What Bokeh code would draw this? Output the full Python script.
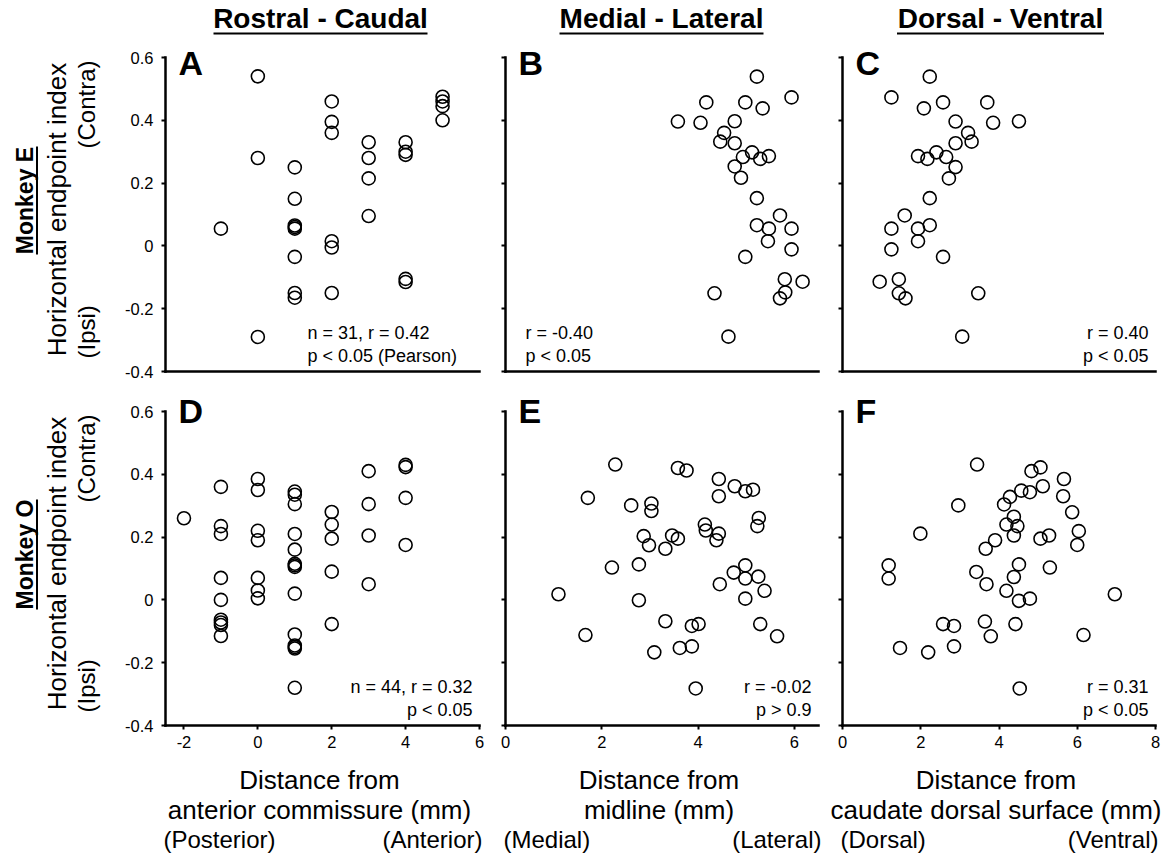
import math
from bokeh.plotting import figure
from bokeh.layouts import gridplot
from bokeh.models import Range1d, FixedTicker, Label, Arrow, CustomJSTickFormatter, LinearAxis
from bokeh.embed import file_html
from bokeh.resources import INLINE

# ---------------- data ----------------
# Monkey E, Rostral - Caudal (A)
a_x = [0, 0, 0, -1, 1, 1, 1, 1, 1, 1, 1, 1, 2, 2, 2, 2, 2, 2, 3, 3, 3, 3, 4, 4, 4, 4, 4, 5, 5, 5, 5]
a_y = [0.54, 0.28, -0.29, 0.055, 0.25, 0.15, 0.065, 0.06, 0.055, -0.035, -0.15, -0.165,
       0.46, 0.395, 0.36, 0.015, -0.005, -0.15, 0.33, 0.28, 0.215, 0.095,
       0.33, 0.30, 0.29, -0.105, -0.115, 0.475, 0.46, 0.445, 0.40]
# Monkey E, Medial - Lateral (B)
b_x = [5.22, 5.94, 4.17, 4.98, 5.34, 3.58, 4.05, 4.76, 4.54, 4.46, 4.76, 5.12, 4.93, 5.29, 5.47, 4.76,
       4.89, 5.22, 5.70, 5.22, 5.47, 5.94, 5.45, 5.94, 4.98, 5.80, 6.17, 4.34, 5.81, 5.70, 4.63]
b_y = [0.539, 0.473, 0.457, 0.457, 0.438, 0.396, 0.392, 0.397, 0.36, 0.332, 0.327, 0.298, 0.283, 0.277,
       0.286, 0.253, 0.217, 0.152, 0.097, 0.066, 0.055, 0.055, 0.015, -0.011, -0.035, -0.106, -0.114,
       -0.151, -0.148, -0.167, -0.289]
# Monkey E, Dorsal - Ventral (C)
c_x = [2.23, 1.25, 2.57, 3.70, 2.08, 2.89, 3.85, 4.51, 3.21, 3.30, 2.89, 1.93, 2.17, 2.40, 2.65, 2.89,
       2.72, 2.23, 1.59, 1.25, 1.93, 2.23, 1.93, 1.25, 2.57, 0.95, 1.44, 1.44, 1.61, 3.47, 3.06]
c_y = [0.539, 0.473, 0.457, 0.457, 0.438, 0.396, 0.392, 0.397, 0.36, 0.332, 0.327, 0.286, 0.277, 0.298,
       0.283, 0.251, 0.215, 0.152, 0.097, 0.055, 0.055, 0.066, 0.015, -0.011, -0.035, -0.114, -0.106,
       -0.151, -0.167, -0.151, -0.289]
# Monkey O, Rostral - Caudal (D)
d_x = [-2, -1, -1, -1, -1, -1, -1, -1, -1, -1, 0, 0, 0, 0, 0, 0, 0,
       1, 1, 1, 1, 1, 1, 1, 1, 1, 1, 1, 1, 1, 1, 2, 2, 2, 2, 2, 3, 3, 3, 3, 4, 4, 4, 4]
d_y = [0.26, 0.36, 0.235, 0.21, 0.07, 0.0, -0.063, -0.072, -0.08, -0.115,
       0.385, 0.35, 0.22, 0.19, 0.07, 0.03, 0.005,
       0.345, 0.335, 0.305, 0.21, 0.16, 0.115, 0.11, 0.105, 0.02, -0.11, -0.145, -0.15, -0.155, -0.28,
       0.28, 0.24, 0.195, 0.09, -0.077, 0.41, 0.305, 0.205, 0.05, 0.43, 0.423, 0.325, 0.175]
# Monkey O, Medial - Lateral (E)
e_x = [2.28, 3.58, 3.76, 4.43, 4.76, 4.98, 5.14, 4.43, 1.71, 2.61, 3.03, 3.03, 5.26, 5.23, 4.14, 4.16,
       4.43, 4.38, 2.87, 2.98, 3.32, 3.46, 3.58, 2.21, 2.77, 4.98, 4.74, 4.98, 5.25, 4.45, 5.38, 1.10,
       2.77, 4.98, 3.32, 3.87, 4.01, 5.29, 1.66, 5.64, 3.62, 3.87, 3.09, 3.95]
e_y = [0.431, 0.42, 0.412, 0.385, 0.362, 0.346, 0.351, 0.33, 0.325, 0.301, 0.307, 0.283, 0.261, 0.235,
       0.24, 0.221, 0.211, 0.19, 0.203, 0.174, 0.163, 0.205, 0.195, 0.103, 0.113, 0.11, 0.087, 0.068,
       0.074, 0.05, 0.029, 0.018, -0.001, 0.004, -0.068, -0.083, -0.077, -0.077, -0.112, -0.116,
       -0.153, -0.148, -0.167, -0.282]
# Monkey O, Dorsal - Ventral (F)
f_x = [3.44, 5.06, 4.83, 5.66, 5.12, 4.57, 4.79, 4.28, 5.64, 4.13, 2.96, 5.87, 4.38, 4.19, 4.47, 4.38,
       6.04, 1.99, 5.28, 5.06, 3.90, 3.66, 6.00, 1.18, 1.18, 4.51, 5.30, 3.42, 4.38, 3.68, 4.19, 4.51,
       4.79, 6.96, 2.57, 2.85, 3.64, 4.42, 3.79, 6.16, 1.47, 2.19, 2.85, 4.53]
f_y = [0.431, 0.422, 0.41, 0.385, 0.362, 0.348, 0.343, 0.328, 0.33, 0.304, 0.301, 0.279, 0.265, 0.24,
       0.235, 0.205, 0.219, 0.211, 0.205, 0.195, 0.19, 0.163, 0.175, 0.11, 0.068, 0.113, 0.103, 0.089,
       0.073, 0.05, 0.029, -0.003, 0.004, 0.018, -0.077, -0.083, -0.069, -0.077, -0.116, -0.112,
       -0.153, -0.167, -0.148, -0.282]

column_titles = ["Rostral - Caudal", "Medial - Lateral", "Dorsal - Ventral"]
row_titles = ["Monkey E", "Monkey O"]
panel_letters = [["A", "B", "C"], ["D", "E", "F"]]
stats = [[["n = 31, r = 0.42", "p < 0.05 (Pearson)"], ["r = -0.40", "p < 0.05"], ["r = 0.40", "p < 0.05"]],
         [["n = 44, r = 0.32", "p < 0.05"], ["r = -0.02", "p > 0.9"], ["r = 0.31", "p < 0.05"]]]
x_titles = [["Distance from", "anterior commissure (mm)"],
            ["Distance from", "midline (mm)"],
            ["Distance from", "caudate dorsal surface (mm)"]]
x_ends = [["(Posterior)", "(Anterior)"], ["(Medial)", "(Lateral)"], ["(Dorsal)", "(Ventral)"]]
y_title = "Horizontal endpoint index"
y_ends = ["(Ipsi)", "(Contra)"]
x_ticks = [[-2, 0, 2, 4, 6], [0, 2, 4, 6], [0, 2, 4, 6, 8]]
y_ticks = [-0.4, -0.2, 0, 0.2, 0.4, 0.6]

data = [[(a_x, a_y), (b_x, b_y), (c_x, c_y)], [(d_x, d_y), (e_x, e_y), (f_x, f_y)]]

# ---------------- layout (page pixels) ----------------
XR = [(-2.5, 6.0), (0.0, 6.5), (0.0, 8.0)]   # axis extents
YR = (-0.4, 0.6)
FL = [165, 505, 842]          # page x of the axes box left
FW = [314, 313, 313]
FT = [57, 411]                # page y of the axes box top
FH = 314
X0 = [0, 491, 828]            # canvas edges of every figure
X1 = [491, 828, 1167]
Y0 = [0, 391]
Y1 = [391, 857]
FONT = "Liberation Sans"
BASE_K = 0.37                 # baseline correction of rendered labels (em)


def to_data(row, col, px, py):
    x0, x1 = XR[col]
    x = x0 + (px - FL[col]) / FW[col] * (x1 - x0)
    y = YR[1] - (py - FT[row]) / FH * (YR[1] - YR[0])
    return x, y


def lab(p, row, col, px, py, text, size, bold=False, align="left", angle=0.0):
    if angle == 0.0:
        py = py - BASE_K * size
    else:
        px = px - BASE_K * size
    x, y = to_data(row, col, px, py)
    p.add_layout(Label(x=x, y=y, text=text, text_font=FONT, text_font_size=f"{size}px",
                       text_font_style="bold" if bold else "normal", text_color="black",
                       text_align=align, text_baseline="alphabetic", angle=angle))


def uline(p, row, col, px0, py0, px1, py1, w=2.0):
    x0, y0 = to_data(row, col, px0, py0)
    x1, y1 = to_data(row, col, px1, py1)
    p.add_layout(Arrow(end=None, x_start=x0, y_start=y0, x_end=x1, y_end=y1,
                       line_color="black", line_width=w))


fmt = CustomJSTickFormatter(code="return Math.abs(tick - Math.round(tick)) < 1e-9 ? tick.toFixed(0) : tick.toFixed(1);")


def style_axis(ax):
    ax.axis_line_width = 2.5
    ax.axis_line_color = "black"
    ax.axis_line_cap = "square"
    ax.major_tick_line_width = 2
    ax.major_tick_line_color = "black"
    ax.major_tick_out = 4
    ax.major_tick_in = 0
    ax.minor_tick_line_width = 2
    ax.minor_tick_line_color = "black"
    ax.minor_tick_out = 4
    ax.minor_tick_in = 0
    ax.major_label_text_font = FONT
    ax.major_label_text_font_size = "16.5px"
    ax.major_label_text_color = "black"
    ax.formatter = fmt


figs = []
for row in range(2):
    frow = []
    for col in range(3):
        xs0, _ = to_data(row, col, X0[col], 0)
        xs1, _ = to_data(row, col, X1[col], 0)
        _, ys1 = to_data(row, col, 0, Y0[row])
        _, ys0 = to_data(row, col, 0, Y1[row])
        p = figure(width=X1[col] - X0[col], height=Y1[row] - Y0[row],
                   x_range=Range1d(xs0, xs1), y_range=Range1d(ys0, ys1),
                   x_axis_location=None, y_axis_location=None, title=None,
                   output_backend="svg", toolbar_location=None,
                   min_border_left=0, min_border_right=0,
                   min_border_top=0, min_border_bottom=0)
        p.outline_line_color = None
        p.grid.visible = False

        # y axis
        yax = LinearAxis(fixed_location=XR[col][0], bounds=YR)
        style_axis(yax)
        if col == 0:
            yax.ticker = FixedTicker(ticks=y_ticks, minor_ticks=[])
            yax.major_label_standoff = 8
        else:
            yax.ticker = FixedTicker(ticks=[], minor_ticks=y_ticks)
        p.add_layout(yax, "left")

        # x axis
        xax = LinearAxis(fixed_location=YR[0], bounds=XR[col])
        style_axis(xax)
        if row == 1:
            xax.ticker = FixedTicker(ticks=x_ticks[col], minor_ticks=[])
            xax.major_label_standoff = 6
        else:
            xax.ticker = FixedTicker(ticks=[], minor_ticks=[])
        p.add_layout(xax, "below")

        xs, ys = data[row][col]
        p.scatter(xs, ys, marker="circle", size=13, fill_color=None,
                  line_color="black", line_width=1.6)

        # panel letter
        lab(p, row, col, FL[col] + 13, FT[row] + (18 if row == 0 else 12), panel_letters[row][col], 34, bold=True)

        # statistics text
        l1, l2 = stats[row][col]
        bottom = FT[row] + FH
        if row == 0 and col in (0, 1):
            sx = 307 if col == 0 else 525
            lab(p, row, col, sx, bottom - 32, l1, 18)
            lab(p, row, col, sx, bottom - 9, l2, 18)
        else:
            sx = FL[col] + FW[col] - 7
            lab(p, row, col, sx, bottom - 32, l1, 18, align="right")
            lab(p, row, col, sx, bottom - 9, l2, 18, align="right")

        # column titles
        if row == 0:
            cx = [320, 661, 1000][col]
            hw = [107, 102, 103.5][col]
            lab(p, row, col, cx, 28, column_titles[col], 28, bold=True, align="center")
            uline(p, row, col, cx - hw, 33, cx + hw, 33, 2.2)

        # row titles and y titles
        if col == 0:
            off = FT[row] - FT[0]
            cy = 200 + off
            lab(p, row, col, 33, cy, row_titles[row], 23, bold=True, align="center", angle=math.pi / 2)
            hl = 54 if row == 0 else 55
            uline(p, row, col, 36.5, cy - hl, 36.5, cy + hl, 2.0)
            lab(p, row, col, 66, 209 + off, y_title, 26, align="center", angle=math.pi / 2)
            lab(p, row, col, 95, 358 + off, y_ends[0], 24, align="left", angle=math.pi / 2)
            lab(p, row, col, 95, 60 + off, y_ends[1], 24, align="right", angle=math.pi / 2)

        # x titles
        if row == 1:
            cx = FL[col] + FW[col] / 2 - 3
            t1, t2 = x_titles[col]
            lab(p, row, col, cx, 789, t1, 26, align="center")
            lab(p, row, col, cx, 819, t2, 26, align="center")
            e1, e2 = x_ends[col]
            lab(p, row, col, FL[col] - 2, 848, e1, 24, align="left")
            lab(p, row, col, FL[col] + FW[col] + 3, 848, e2, 24, align="right")
        frow.append(p)
    figs.append(frow)

grid = gridplot(figs, toolbar_location=None)
open("out.html", "w").write(file_html(grid, INLINE))
